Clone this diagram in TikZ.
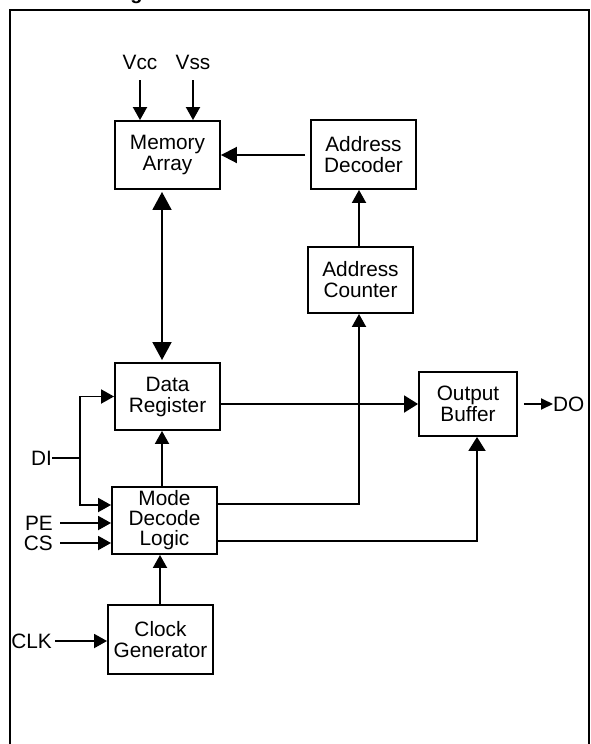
\documentclass[tikz,border=0pt]{standalone}
\usepackage{fontspec}
\setmainfont{Liberation Sans}
\usetikzlibrary{arrows.meta}
\begin{document}
\begin{tikzpicture}[x=1pt,y=-1pt,
  txt/.style={font=\fontsize{20.8}{21.5}\selectfont, inner sep=0pt},
  blk/.style={draw, line width=1.9pt, align=center, inner sep=0pt,
    font=\fontsize{20.8}{21}\selectfont, minimum width=105pt},
  wire/.style={line width=1.9pt},
  con/.style={wire, -{Triangle[length=13pt,width=14pt]}},
  bigcon/.style={wire, {Triangle[length=18pt,width=19pt]}-{Triangle[length=18pt,width=19pt]}, shorten <=2pt, shorten >=2pt}
]
\useasboundingbox (0,0) rectangle (591,744);
\begin{scope}
\clip (0,0) rectangle (591,744);
\node[font=\fontsize{20}{21}\selectfont\bfseries, anchor=base west, inner sep=0pt] (title) at (39,-0.5) {Block Diagram};
\draw[line width=2pt] (10,760) -- (10,9.5) -- (588.5,9.5) -- (588.5,760);
\end{scope}

% blocks
\node[blk, minimum height=68pt] (mem) at (167.5,155) {Memory\\Array};
\node[blk, minimum height=69pt] (dec) at (363.5,154.5) {Address\\Decoder};
\node[blk, minimum height=66pt] (cnt) at (360.5,280) {Address\\Counter};
\node[blk, minimum height=67pt] (dreg) at (167.5,396.5) {Data\\Register};
\node[blk, minimum height=67pt, font=\fontsize{20.8}{20}\selectfont] (mode) at (164.5,520.5) {Mode\\Decode\\Logic};
\node[blk, minimum height=69pt] (clk) at (160.5,639.5) {Clock\\Generator};
\node[blk, minimum height=64pt, minimum width=98pt] (ob) at (468,404) {Output\\Buffer};

% labels
\node[txt] (vcc) at (140,62) {Vcc};
\node[txt] (vss) at (193,62) {Vss};
\node[txt, anchor=east] (di) at (52,458) {DI};
\node[txt, anchor=east] (pe) at (53,523) {PE};
\node[txt, anchor=east] (cs) at (53,543) {CS};
\node[txt, anchor=east] (clkin) at (52,641) {CLK};
\node[txt, anchor=west] (do) at (553,404) {DO};

% helper coordinates
\coordinate (vccS) at (140,80);
\coordinate (vssS) at (193,80);
\coordinate (xm) at (162,0);
\coordinate (xk) at (160,0);
\coordinate (dij) at (80,458);
\coordinate (xo) at (477,0);
\coordinate (xc) at (359,0);

% connectors
\draw[con] (vccS) -- (vccS |- mem.north);
\draw[con] (vssS) -- (vssS |- mem.north);
\draw[con, -{Triangle[length=16pt,width=16pt]}, shorten <=5pt] (dec.west |- mem.east) -- (mem.east);
\draw[con] (cnt.north -| xc) -- (dec.south -| xc);
\draw[bigcon] (mem.south -| xm) -- (dreg.north -| xm);
\draw[wire] (di.east) -- (dij);
\draw[con] (dij) |- (dreg.west);
\draw[con] (dij) |- ([yshift=15.5pt]mode.west);
\draw[con] ([xshift=7pt]pe.east) -- (pe.east -| mode.west);
\draw[con] ([xshift=7pt]cs.east) -- (cs.east -| mode.west);
\draw[con] (mode.north -| xm) -- (dreg.south -| xm);
\draw[con] (clk.north -| xk) -- (mode.south -| xk);
\draw[con] ([xshift=3pt]clkin.east) -- (clkin.east -| clk.west);
\draw[con, -{Triangle[length=14pt,width=17pt]}] (dreg.east |- ob.west) -- (ob.west);
\draw[con, -{Triangle[length=12pt,width=11pt]}, shorten <=6pt] (ob.east) -- (do.west);
\draw[con] ([yshift=16.5pt]mode.east) -| (cnt.south -| xc);
\draw[con, -{Triangle[length=14pt,width=17pt]}] ([yshift=-20.5pt]mode.east) -| (ob.south -| xo);
\end{tikzpicture}
\end{document}
